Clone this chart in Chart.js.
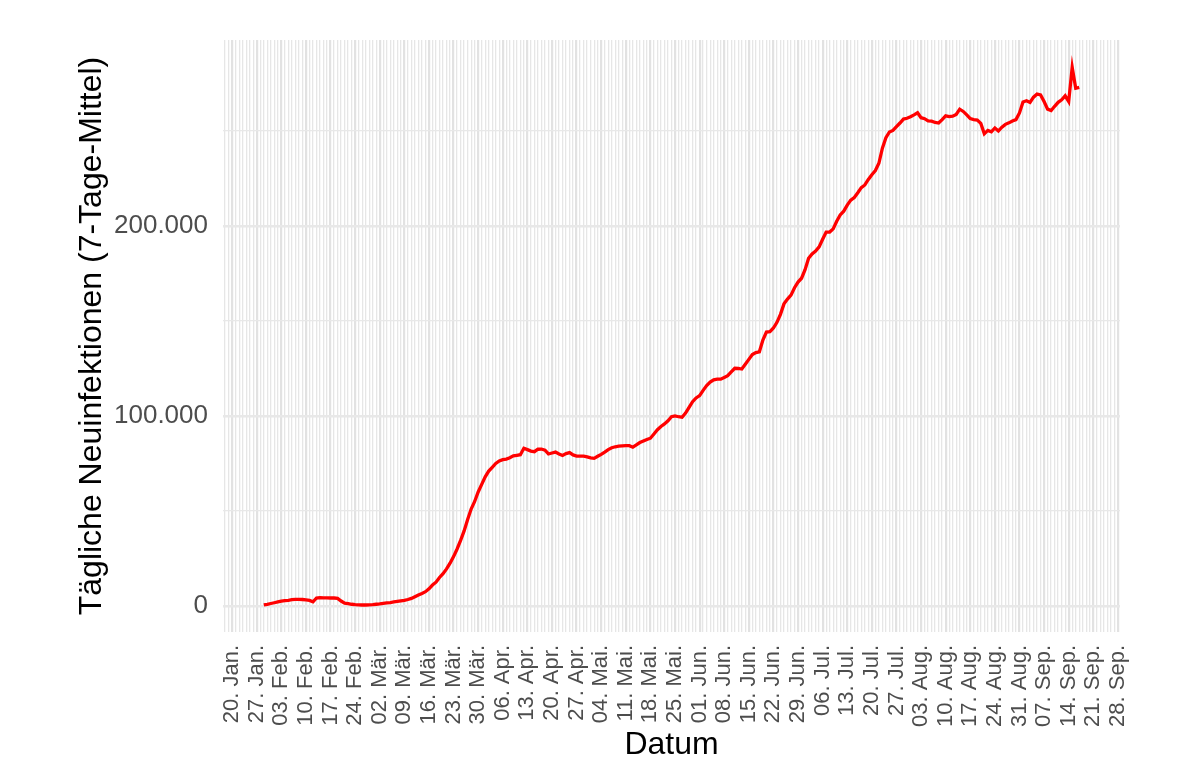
<!DOCTYPE html>
<html lang="de">
<head>
    <meta charset="UTF-8">
    <title>Tägliche Neuinfektionen</title>
    <script src="https://cdn.jsdelivr.net/npm/chart.js"></script>
    <style>
        * { margin: 0; padding: 0; box-sizing: border-box; }
        body { background: #fff; }
        #chart { display: block; }
    </style>
</head>
<body>
    <canvas id="chart" width="1200" height="769"></canvas>

    <script>
        // days counted from 20. Jan.; first value is 29. Jan.
        const firstDay = 9;

        // daily new infections, 7-day mean
        const cases = [
            600, 900, 1300, 1700, 2100, 2500, 2800, 3000, 3300, 3500,
            3500, 3400, 3200, 2900, 2200, 4200, 4400, 4300, 4300, 4200,
            4200, 4000, 2600, 1500, 1200, 900, 700, 550, 500, 500,
            600, 700, 900, 1100, 1400, 1600, 1800, 2100, 2400, 2700,
            3000, 3400, 4000, 4900, 5800, 6600, 7500, 9000, 11000, 12500,
            15000, 17000, 19500, 22500, 26000, 30000, 34500, 39500, 45500, 51000,
            55000, 60000, 64000, 68000, 71000, 73000, 75000, 76300, 77000, 77300,
            78000, 79000, 79300, 79600, 83000, 82300, 81500, 81200, 82500, 82600,
            82000, 80000, 80500, 81000, 80000, 79200, 80200, 80700, 79500, 78900,
            78900, 78900, 78500, 78000, 77700, 78800, 79800, 81000, 82300, 83300,
            83800, 84100, 84300, 84400, 84400, 83600, 84800, 86000, 86800, 87600,
            88300, 90500, 92800, 94500, 95800, 97500, 99600, 100000, 99600, 99300,
            101500, 104500, 107500, 109500, 110700, 113500, 116000, 117800, 119000, 119400,
            119400, 120300, 121200, 123200, 125100, 125000, 124700, 127200, 129800, 132300,
            133400, 133800, 140000, 144200, 144400, 146300, 149300, 153500, 159000, 161500,
            163600, 167500, 170500, 172500, 177000, 183000, 185300, 186800, 189000, 193000,
            196800, 196800, 198500, 202500, 205800, 207800, 211000, 213600, 215000, 217500,
            220200, 221600, 224500, 227000, 229200, 233000, 241000, 246500, 249500, 250300,
            252300, 254200, 256300, 256700, 257500, 258500, 259600, 257000, 256500, 255300,
            255200, 254500, 254200, 256000, 258000, 257600, 257800, 258700, 261500, 260300,
            258500, 256500, 256000, 255800, 254000, 248500, 250300, 249600, 251600, 250000,
            252000, 253500, 254300, 255300, 256000, 259500, 265300, 265900, 265000, 267800,
            269500, 269000, 265500, 261500, 260800, 263000, 265100, 266400, 268500, 265500,
            283500, 272500, 273000
        ];

        // weekly tick labels, one every 7 days starting at day 0
        const weekLabels = [
            '20. Jan.', '27. Jan.', '03. Feb.', '10. Feb.', '17. Feb.', '24. Feb.',
            '02. Mär.', '09. Mär.', '16. Mär.', '23. Mär.', '30. Mär.',
            '06. Apr.', '13. Apr.', '20. Apr.', '27. Apr.',
            '04. Mai.', '11. Mai.', '18. Mai.', '25. Mai.',
            '01. Jun.', '08. Jun.', '15. Jun.', '22. Jun.', '29. Jun.',
            '06. Jul.', '13. Jul.', '20. Jul.', '27. Jul.',
            '03. Aug.', '10. Aug.', '17. Aug.', '24. Aug.', '31. Aug.',
            '07. Sep.', '14. Sep.', '21. Sep.', '28. Sep.'
        ];

        const yTickValues = [0, 50000, 100000, 150000, 200000, 250000];
        const yTickLabels = ['0', '', '100.000', '', '200.000', ''];

        const points = cases.map((v, i) => ({ x: firstDay + i, y: v }));
        const font = 'Liberation Sans, Arial, sans-serif';

        const ctx = document.getElementById('chart').getContext('2d');
        new Chart(ctx, {
            type: 'line',
            data: {
                datasets: [{
                    data: points,
                    borderColor: '#ff0000',
                    borderWidth: 3.3,
                    pointRadius: 0,
                    tension: 0,
                    fill: false
                }]
            },
            options: {
                responsive: false,
                animation: false,
                layout: { padding: { top: 40, right: 80, left: 0, bottom: 0 } },
                plugins: { legend: { display: false }, tooltip: { enabled: false } },
                scales: {
                    x: {
                        type: 'linear',
                        min: -2.6,
                        max: 252.6,
                        border: { display: false },
                        afterBuildTicks: (scale) => {
                            const t = [];
                            for (let d = -2; d <= 252; d++) t.push({ value: d });
                            scale.ticks = t;
                        },
                        afterFit: (scale) => { scale.height = 137; },
                        grid: {
                            drawTicks: false,
                            color: (c) => c.tick && c.tick.value % 7 === 0 ? '#e2e2e2' : '#e6e6e6',
                            lineWidth: (c) => c.tick && c.tick.value % 7 === 0 ? 2.2 : 1.3
                        },
                        ticks: {
                            autoSkip: false,
                            minRotation: 90,
                            maxRotation: 90,
                            padding: 13,
                            color: '#4d4d4d',
                            font: { family: font, size: 22 },
                            callback: (v) => (v >= 0 && v % 7 === 0) ? weekLabels[v / 7] : ''
                        },
                        title: {
                            display: true,
                            text: 'Datum',
                            color: '#000',
                            font: { family: font, size: 32 },
                            padding: { top: 0, bottom: 5 }
                        }
                    },
                    y: {
                        min: -13700,
                        max: 297900,
                        border: { display: false },
                        afterBuildTicks: (scale) => {
                            scale.ticks = yTickValues.map(v => ({ value: v }));
                        },
                        afterFit: (scale) => { scale.width = 223; },
                        grid: {
                            drawTicks: false,
                            color: '#e8e8e8',
                            lineWidth: (c) => c.tick && c.tick.value % 100000 === 0 ? 2.6 : 1.3
                        },
                        ticks: {
                            padding: 15,
                            color: '#4d4d4d',
                            font: { family: font, size: 26 },
                            callback: (v) => yTickLabels[yTickValues.indexOf(v)]
                        },
                        title: {
                            display: true,
                            text: 'Tägliche Neuinfektionen (7-Tage-Mittel)',
                            color: '#000',
                            font: { family: font, size: 32 },
                            padding: { top: 73, bottom: 0 }
                        }
                    }
                }
            }
        });
    </script>
</body>
</html>
